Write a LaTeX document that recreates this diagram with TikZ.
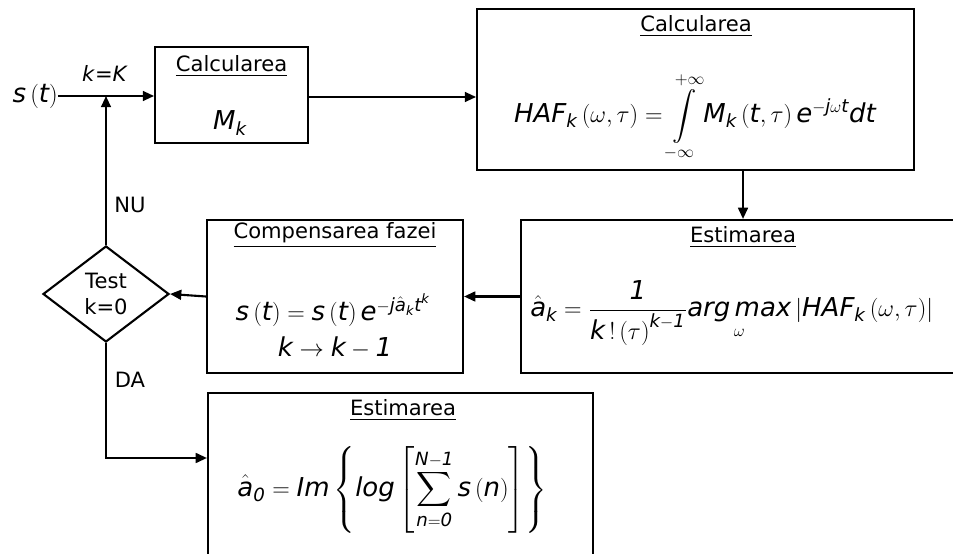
\documentclass[tikz,border=0pt]{standalone}
\usepackage{amsmath}
\usepackage{fontspec}
\setmainfont{DejaVu Sans}
\usepackage{tikz}
\usetikzlibrary{arrows.meta,shapes.geometric,positioning}
\newcommand{\vi}[1]{\textit{#1}}

\begin{document}
\begin{tikzpicture}[x=1cm,y=1cm,
  blok/.style={draw,line width=1.5pt,inner sep=0pt},
  titlu/.style={font=\fontsize{15}{17}\selectfont,inner sep=1pt},
  formula/.style={font=\fontsize{18.5}{22}\selectfont,inner sep=0pt},
  eticheta/.style={font=\fontsize{15}{17}\selectfont,inner sep=1pt},
  sageata/.style={line width=1.5pt,-{Triangle[length=8pt,width=7pt]}}]
\path[use as bounding box] (0,0) rectangle (23.825,13.825);
\node[blok,minimum width=3.825cm,minimum height=2.4cm] (calcM) at (5.79,11.45) {};
\node[titlu] (calcMt) at (5.79,12.175) {\underline{Calcularea}};
\node[formula] (calcMf) at (5.75,10.75) {$\vi{M}_{\vi{k}}$};
\node[blok,minimum width=10.925cm,minimum height=4.025cm] (calcH) at (17.39,11.59) {};
\node[titlu] (calcHt) at (17.40,13.175) {\underline{Calcularea}};
\node[formula] (calcHf) at (17.375,10.9) {$\vi{HAF}_{\vi{k}}\left(\omega,\tau\right)=\displaystyle\int\limits_{-\infty}^{+\infty}\vi{M}_{\vi{k}}\left(\vi{t},\tau\right)\vi{e}^{-\vi{j}\omega\vi{t}}\vi{dt}$};
\node[blok,minimum width=11.1cm,minimum height=3.825cm] (estK) at (18.575,6.4125) {};
\node[titlu] (estKt) at (18.575,7.9) {\underline{Estimarea}};
\node[formula,anchor=west] (estKf) at (13.25,6.0) {$\hat{\vi{a}}_{\vi{k}}=\dfrac{\vi{1}}{\vi{k}\,!\left(\tau\right)^{\vi{k}-\vi{1}}}\underset{\omega}{\vi{arg\,max}}\left|\vi{HAF}_{\vi{k}}\left(\omega,\tau\right)\right|$};
\node[blok,minimum width=6.4cm,minimum height=3.825cm] (comp) at (8.375,6.4125) {};
\node[titlu] (compt) at (8.375,7.95) {\underline{Compensarea fazei}};
\node[formula] (compf) at (8.325,6.075) {$\vi{s}\left(\vi{t}\right)=\vi{s}\left(\vi{t}\right)\vi{e}^{-\vi{j}\hat{\vi{a}}_{\vi{k}}\vi{t}^{\vi{k}}}$};
\node[formula] (compk) at (8.375,5.125) {$\vi{k}\rightarrow\vi{k}-\vi{1}$};
\node[draw,diamond,line width=1.5pt,inner sep=0pt,aspect=1.31,minimum width=3.15cm,minimum height=2.4cm,align=center,font=\fontsize{15}{18}\selectfont] (test) at (2.65,6.475) {Test\\k=0};
\node[blok,minimum width=9.625cm,minimum height=4.3cm] (est0) at (10.0125,1.85) {};
\node[titlu] (est0t) at (10.075,3.575) {\underline{Estimarea}};
\node[formula] (est0f) at (9.8,1.575) {$\hat{\vi{a}}_{\vi{0}}=\vi{Im}\left\{\vi{log}\left[\displaystyle\sum_{\vi{n}=\vi{0}}^{\vi{N}-\vi{1}}\vi{s}\left(\vi{n}\right)\right]\right\}$};
\node[formula,anchor=east] (intrare) at (1.45,11.425) {$\vi{s}\left(\vi{t}\right)$};
\coordinate (nod) at (2.65,11.425);
\coordinate (cot) at (2.65,2.375);
\draw[sageata] (intrare.east) -- (intrare.east -| calcM.west);
\draw[sageata] (calcM.east |- 0,11.4) -- (calcH.west |- 0,11.4);
\draw[sageata] (calcH.south -| estK.north) -- (estK.north);
\draw[sageata] (estK.west) -- (comp.east);
\draw[sageata] (comp.west) -- (test.east);
\draw[sageata] (test.north) -- (nod);
\draw[sageata] (test.south) |- (cot -| est0.west);
\node[eticheta] (kK) at (2.625,12.0) {\vi{k}=\vi{K}};
\node[eticheta] (nu) at (3.25,8.7) {NU};
\node[eticheta] (da) at (3.25,4.325) {DA};
\end{tikzpicture}
\end{document}
